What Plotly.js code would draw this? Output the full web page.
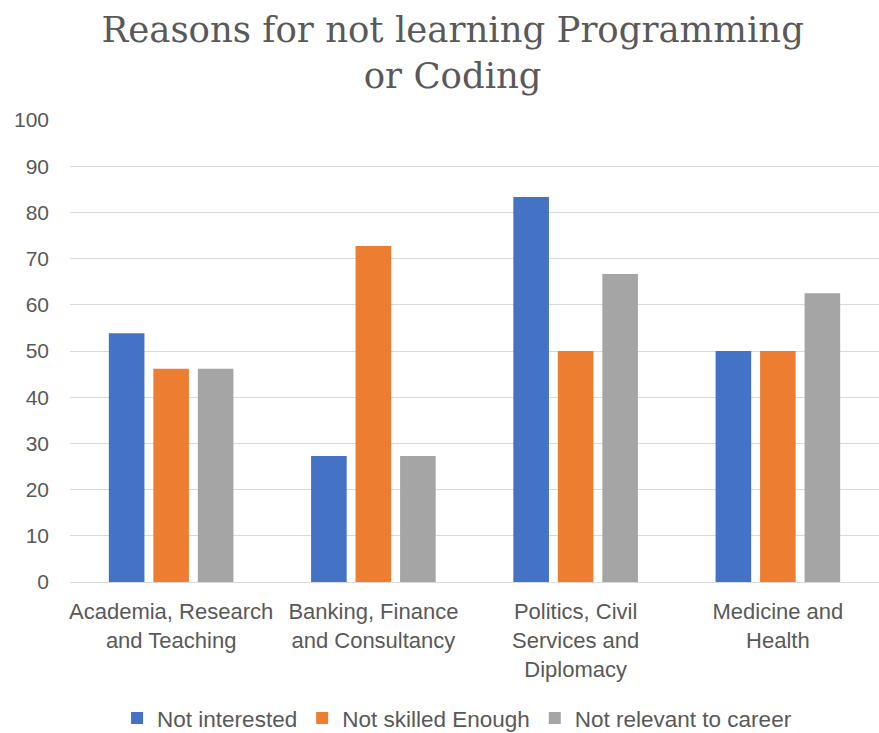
<!DOCTYPE html>
<html>
<head>
<meta charset="utf-8">
<script src="https://cdn.plot.ly/plotly-3.0.1.min.js"></script>
<style>html,body{margin:0;padding:0;background:#fff;}#chart{width:879px;height:733px;}</style>
</head>
<body>
<div id="chart"></div>
<script>
const categories = [
  "Academia, Research<br>and Teaching",
  "Banking, Finance<br>and Consultancy",
  "Politics, Civil<br>Services and<br>Diplomacy",
  "Medicine and<br>Health"
];
const seriesNames = ["Not interested", "Not skilled Enough", "Not relevant to career"];
const notInterested = [53.85, 27.27, 83.33, 50];
const notSkilled = [46.15, 72.73, 50, 50];
const notRelevant = [46.15, 27.27, 66.67, 62.5];
const colors = ["#4472C4", "#ED7D31", "#A5A5A5"];
const tickVals = [0, 10, 20, 30, 40, 50, 60, 70, 80, 90, 100];

const allValues = [notInterested, notSkilled, notRelevant];
const traces = allValues.map((v, i) => ({
  type: "bar",
  name: seriesNames[i],
  x: categories,
  y: v,
  marker: {color: colors[i]},
  hoverinfo: "y"
}));

const font = "Liberation Sans, Arial, sans-serif";
const layout = {
  width: 879,
  height: 733,
  paper_bgcolor: "#fff",
  plot_bgcolor: "#fff",
  margin: {l: 70, r: 0, t: 120, b: 151, autoexpand: false},
  title: {
    text: "Reasons for not learning Programming<br>or Coding",
    font: {family: "DejaVu Serif, Liberation Serif, serif", size: 35.5, color: "#595959"},
    x: 0.515, xanchor: "center", xref: "container",
    y: 0.943, yanchor: "middle", yref: "container"
  },
  barmode: "group",
  bargap: 0.34,
  bargroupgap: 0.2,
  xaxis: {
    type: "category",
    tickfont: {family: font, size: 22, color: "#595959"},
    showline: true, linecolor: "#d9d9d9", linewidth: 1,
    ticks: "", showgrid: false,
    ticklabelstandoff: 10,
    automargin: false
  },
  yaxis: {
    range: [0, 100],
    tickvals: tickVals,
    tickfont: {family: font, size: 21, color: "#595959"},
    showgrid: true, gridcolor: "#d9d9d9", gridwidth: 1,
    zeroline: false, showline: false, ticks: "",
    ticklabelstandoff: 20,
    automargin: false
  },
  legend: {
    orientation: "h",
    x: 0.52, xanchor: "center", xref: "container",
    y: 0.02, yanchor: "middle", yref: "container",
    font: {family: font, size: 22.5, color: "#595959"},
    itemwidth: 30
  },
  showlegend: true
};

Plotly.newPlot("chart", traces, layout, {displayModeBar: false, staticPlot: true});
</script>
</body>
</html>
